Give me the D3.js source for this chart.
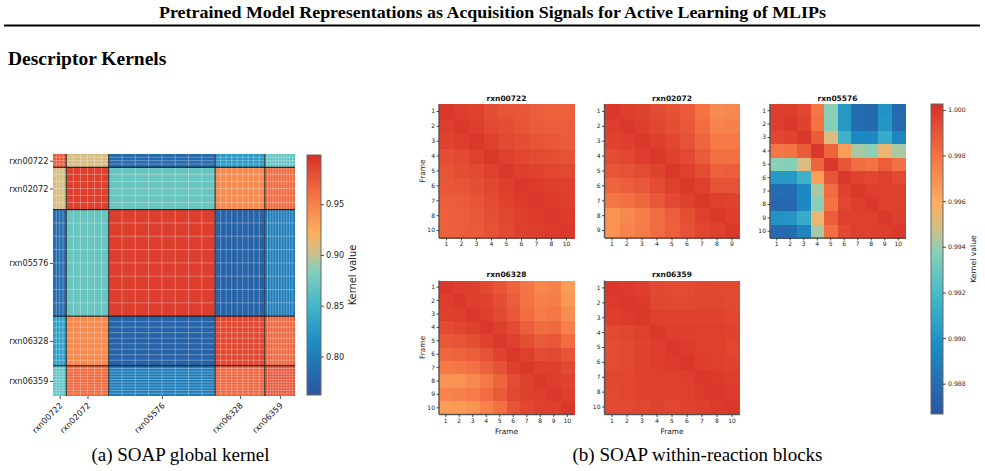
<!DOCTYPE html>
<html>
<head>
<meta charset="utf-8">
<script src="https://cdn.jsdelivr.net/npm/d3@7"></script>
<style>
  body { margin: 0; background: #fff; }
  svg { display: block; }
</style>
</head>
<body>
<svg id="svg" width="985" height="471"></svg>
<script>
// -------------------------------
// DATA
// -------------------------------
const reactions = ["rxn00722", "rxn02072", "rxn05576", "rxn06328", "rxn06359"];

// global kernel: frames per reaction block and the mean kernel value of each block
const globalFrames = [11, 35, 88, 41, 25];
const globalGridDivs = [4, 6, 8, 9, 11];
const globalKernel = [
  [0.975, 0.905, 0.780, 0.825, 0.865],
  [0.905, 0.990, 0.870, 0.945, 0.965],
  [0.785, 0.870, 0.990, 0.775, 0.800],
  [0.830, 0.945, 0.775, 0.985, 0.968],
  [0.865, 0.965, 0.800, 0.968, 0.980]
];
const globalTicks = [0.80, 0.85, 0.90, 0.95];

// within-reaction blocks
const frames00722 = ["1", "2", "3", "4", "5", "6", "7", "8", "10"];
const frames02072 = ["1", "2", "3", "4", "5", "6", "7", "8", "9"];
const frames05576 = ["1", "2", "3", "4", "5", "6", "7", "8", "9", "10"];
const frames06328 = ["1", "2", "3", "4", "5", "6", "7", "8", "9", "10"];
const frames06359 = ["1", "2", "3", "4", "5", "6", "7", "8", "10"];

const kernel00722 = [
  [1.0000, 0.9998, 0.9996, 0.9992, 0.9990, 0.9989, 0.9987, 0.9986, 0.9986],
  [0.9998, 1.0000, 0.9998, 0.9994, 0.9992, 0.9990, 0.9988, 0.9987, 0.9987],
  [0.9996, 0.9998, 1.0000, 0.9997, 0.9994, 0.9992, 0.9990, 0.9989, 0.9988],
  [0.9992, 0.9994, 0.9997, 1.0000, 0.9997, 0.9995, 0.9993, 0.9992, 0.9991],
  [0.9990, 0.9992, 0.9994, 0.9997, 1.0000, 0.9998, 0.9996, 0.9995, 0.9994],
  [0.9989, 0.9990, 0.9992, 0.9995, 0.9998, 1.0000, 0.9999, 0.9998, 0.9997],
  [0.9987, 0.9988, 0.9990, 0.9993, 0.9996, 0.9999, 1.0000, 0.9999, 0.9998],
  [0.9986, 0.9987, 0.9989, 0.9992, 0.9995, 0.9998, 0.9999, 1.0000, 0.9999],
  [0.9986, 0.9987, 0.9988, 0.9991, 0.9994, 0.9997, 0.9998, 0.9999, 1.0000]
];
const kernel02072 = [
  [1.0000, 0.9998, 0.9996, 0.9993, 0.9991, 0.9988, 0.9980, 0.9971, 0.9972],
  [0.9998, 1.0000, 0.9998, 0.9995, 0.9992, 0.9989, 0.9982, 0.9974, 0.9975],
  [0.9996, 0.9998, 1.0000, 0.9998, 0.9995, 0.9991, 0.9985, 0.9978, 0.9978],
  [0.9993, 0.9995, 0.9998, 1.0000, 0.9997, 0.9994, 0.9988, 0.9981, 0.9981],
  [0.9990, 0.9991, 0.9993, 0.9996, 1.0000, 0.9997, 0.9993, 0.9986, 0.9987],
  [0.9985, 0.9987, 0.9989, 0.9993, 0.9997, 1.0000, 0.9997, 0.9991, 0.9991],
  [0.9979, 0.9981, 0.9984, 0.9989, 0.9994, 0.9997, 1.0000, 0.9997, 0.9996],
  [0.9969, 0.9972, 0.9976, 0.9982, 0.9987, 0.9992, 0.9997, 1.0000, 0.9998],
  [0.9969, 0.9974, 0.9977, 0.9982, 0.9986, 0.9991, 0.9995, 0.9997, 1.0000]
];
const kernel05576 = [
  [0.9998, 0.9998, 0.9995, 0.9979, 0.9938, 0.9903, 0.9880, 0.9877, 0.9900, 0.9878],
  [0.9998, 1.0000, 0.9996, 0.9980, 0.9937, 0.9903, 0.9880, 0.9878, 0.9901, 0.9879],
  [0.9995, 0.9996, 1.0000, 0.9988, 0.9950, 0.9915, 0.9895, 0.9895, 0.9912, 0.9893],
  [0.9979, 0.9980, 0.9988, 1.0000, 0.9985, 0.9965, 0.9942, 0.9938, 0.9954, 0.9942],
  [0.9938, 0.9937, 0.9950, 0.9985, 1.0000, 0.9990, 0.9982, 0.9980, 0.9987, 0.9981],
  [0.9903, 0.9903, 0.9915, 0.9965, 0.9990, 1.0000, 0.9996, 0.9995, 0.9997, 0.9994],
  [0.9880, 0.9880, 0.9895, 0.9942, 0.9982, 0.9996, 1.0000, 0.9998, 0.9997, 0.9997],
  [0.9877, 0.9878, 0.9895, 0.9938, 0.9980, 0.9995, 0.9998, 1.0000, 0.9997, 0.9997],
  [0.9900, 0.9901, 0.9912, 0.9954, 0.9987, 0.9997, 0.9997, 0.9997, 1.0000, 0.9998],
  [0.9878, 0.9879, 0.9893, 0.9942, 0.9981, 0.9994, 0.9997, 0.9997, 0.9998, 1.0000]
];
const kernel06328 = [
  [1.0000, 0.9998, 0.9997, 0.9994, 0.9990, 0.9985, 0.9979, 0.9973, 0.9975, 0.9965],
  [0.9998, 1.0000, 0.9998, 0.9996, 0.9992, 0.9987, 0.9980, 0.9975, 0.9976, 0.9967],
  [0.9997, 0.9998, 1.0000, 0.9998, 0.9994, 0.9989, 0.9982, 0.9977, 0.9979, 0.9970],
  [0.9993, 0.9995, 0.9997, 1.0000, 0.9997, 0.9993, 0.9987, 0.9982, 0.9983, 0.9975],
  [0.9989, 0.9990, 0.9992, 0.9996, 1.0000, 0.9997, 0.9992, 0.9988, 0.9989, 0.9982],
  [0.9984, 0.9985, 0.9987, 0.9991, 0.9996, 1.0000, 0.9997, 0.9993, 0.9994, 0.9990],
  [0.9978, 0.9979, 0.9981, 0.9986, 0.9991, 0.9997, 1.0000, 0.9997, 0.9997, 0.9994],
  [0.9968, 0.9969, 0.9972, 0.9978, 0.9985, 0.9993, 0.9997, 1.0000, 0.9998, 0.9996],
  [0.9974, 0.9975, 0.9977, 0.9982, 0.9988, 0.9994, 0.9997, 0.9998, 1.0000, 0.9997],
  [0.9965, 0.9966, 0.9968, 0.9975, 0.9981, 0.9990, 0.9995, 0.9997, 0.9997, 1.0000]
];
const kernel06359 = [
  [1.0000, 0.9999, 0.9998, 0.9994, 0.9993, 0.9993, 0.9995, 0.9994, 0.9994],
  [0.9999, 1.0000, 0.9999, 0.9995, 0.9994, 0.9994, 0.9995, 0.9995, 0.9994],
  [0.9998, 0.9999, 1.0000, 0.9997, 0.9996, 0.9996, 0.9996, 0.9996, 0.9995],
  [0.9994, 0.9995, 0.9997, 1.0000, 0.9998, 0.9998, 0.9997, 0.9997, 0.9996],
  [0.9993, 0.9994, 0.9996, 0.9998, 1.0000, 0.9999, 0.9997, 0.9997, 0.9995],
  [0.9993, 0.9994, 0.9996, 0.9998, 0.9999, 1.0000, 0.9998, 0.9997, 0.9996],
  [0.9995, 0.9995, 0.9996, 0.9997, 0.9997, 0.9998, 1.0000, 0.9999, 0.9998],
  [0.9994, 0.9995, 0.9996, 0.9997, 0.9997, 0.9997, 0.9999, 1.0000, 0.9999],
  [0.9994, 0.9994, 0.9995, 0.9996, 0.9995, 0.9996, 0.9998, 0.9999, 1.0000]
];
const blockTicks = [0.988, 0.990, 0.992, 0.994, 0.996, 0.998, 1.000];

// colormap (blue -> teal -> tan -> orange -> red)
const cmapStops = [0, 0.22, 0.38, 0.52, 0.60, 0.68, 0.83, 1];
const cmapColors = ["#2b55a0", "#1c8cc4", "#45b8c9", "#86d0b9", "#d4bf86", "#fdae61", "#f47444", "#d73027"];

// -------------------------------
// HELPERS
// -------------------------------
const svg = d3.select("#svg");
const SANS = "'DejaVu Sans', sans-serif";
const SERIF = "'Liberation Serif', 'Times New Roman', serif";

const makeCmap = (vmin, vmax) => d3.scaleLinear()
  .domain(cmapStops.map(f => vmin + f * (vmax - vmin)))
  .range(cmapColors)
  .interpolate(d3.interpolateRgb)
  .clamp(true);

const styleAxis = (g, size) => {
  g.select(".domain").remove();
  g.selectAll(".tick line").attr("stroke", "#222").attr("stroke-width", 0.8);
  g.selectAll(".tick text").attr("fill", "#222")
    .style("font-family", SANS).style("font-size", size + "px");
};

// vertical colorbar with right-side ticks
const colorbar = (x, y, w, h, vmin, vmax, ticks, fmt, fontSize, label, labelSize, labelDx, id) => {
  const cmap = makeCmap(vmin, vmax);
  const grad = svg.append("defs").append("linearGradient")
    .attr("id", id).attr("x1", 0).attr("x2", 0).attr("y1", 1).attr("y2", 0);
  cmapStops.forEach((s, i) => grad.append("stop").attr("offset", s).attr("stop-color", cmapColors[i]));

  svg.append("rect").attr("x", x).attr("y", y).attr("width", w).attr("height", h)
    .attr("fill", `url(#${id})`).attr("stroke", "#666").attr("stroke-width", 1);

  const scale = d3.scaleLinear().domain([vmin, vmax]).range([y + h, y]);
  const g = svg.append("g").attr("transform", `translate(${x + w},0)`)
    .call(d3.axisRight(scale).tickValues(ticks).tickFormat(d3.format(fmt)).tickSize(3).tickPadding(2));
  styleAxis(g, fontSize);

  svg.append("text")
    .attr("transform", `translate(${x + w + labelDx},${y + h / 2}) rotate(-90)`)
    .attr("text-anchor", "middle").attr("dy", "0.35em")
    .style("font-family", SANS).style("font-size", labelSize + "px").attr("fill", "#222")
    .text(label);
  return cmap;
};

// -------------------------------
// PAGE HEADER
// -------------------------------
svg.append("text").attr("x", 492.5).attr("y", 18).attr("text-anchor", "middle")
  .attr("textLength", 667).attr("lengthAdjust", "spacingAndGlyphs")
  .style("font-family", SERIF).style("font-weight", "bold").style("font-size", "17px")
  .text("Pretrained Model Representations as Acquisition Signals for Active Learning of MLIPs");
svg.append("line").attr("x1", 4).attr("x2", 980).attr("y1", 25.5).attr("y2", 25.5)
  .attr("stroke", "#000").attr("stroke-width", 2);
svg.append("text").attr("x", 8).attr("y", 65)
  .style("font-family", SERIF).style("font-weight", "bold").style("font-size", "19.5px")
  .text("Descriptor Kernels");

// -------------------------------
// (a) GLOBAL KERNEL
// -------------------------------
const gLeft = 53, gTop = 154, gSize = 242;
const starts = d3.cumsum([0, ...globalFrames]);
const total = d3.sum(globalFrames);
const gx = d3.scaleLinear().domain([0, total]).range([gLeft, gLeft + gSize]);
const gy = d3.scaleLinear().domain([0, total]).range([gTop, gTop + gSize]);
const gCmap = colorbar(307, 155, 14, 240, 0.762, 0.9985, globalTicks, ".2f", 8.2, "Kernel value", 9.8, 32, "gradA");

const blocks = [];
globalKernel.forEach((row, i) => row.forEach((v, j) => blocks.push({ i, j, v })));
const ga = svg.append("g");
ga.selectAll("rect.block").data(blocks).enter().append("rect")
  .attr("class", "block")
  .attr("x", d => gx(starts[d.j]))
  .attr("y", d => gy(starts[d.i]))
  .attr("width", d => gx(starts[d.j + 1]) - gx(starts[d.j]))
  .attr("height", d => gy(starts[d.i + 1]) - gy(starts[d.i]))
  .attr("shape-rendering", "crispEdges")
  .attr("fill", d => gCmap(d.v));

// light frame grid inside every block
const gridPos = [];
globalFrames.forEach((n, b) => {
  const divs = globalGridDivs[b];
  for (let k = 1; k < divs; k++) gridPos.push(starts[b] + k * n / divs);
});
ga.selectAll("line.gv").data(gridPos).enter().append("line")
  .attr("x1", d => gx(d)).attr("x2", d => gx(d)).attr("y1", gTop).attr("y2", gTop + gSize)
  .attr("stroke", "#fff").attr("stroke-opacity", 0.38).attr("stroke-width", 0.8);
ga.selectAll("line.gh").data(gridPos).enter().append("line")
  .attr("y1", d => gy(d)).attr("y2", d => gy(d)).attr("x1", gLeft).attr("x2", gLeft + gSize)
  .attr("stroke", "#fff").attr("stroke-opacity", 0.38).attr("stroke-width", 0.8);

// block separators
const inner = starts.slice(1, -1);
ga.selectAll("line.sv").data(inner).enter().append("line")
  .attr("x1", d => gx(d)).attr("x2", d => gx(d)).attr("y1", gTop).attr("y2", gTop + gSize)
  .attr("stroke", "#444").attr("stroke-width", 1.3);
ga.selectAll("line.sh").data(inner).enter().append("line")
  .attr("y1", d => gy(d)).attr("y2", d => gy(d)).attr("x1", gLeft).attr("x2", gLeft + gSize)
  .attr("stroke", "#111").attr("stroke-width", 1);

// axes at block centres
const centres = reactions.map((r, i) => (starts[i] + starts[i + 1]) / 2);
const yLab = d3.scaleOrdinal().domain(reactions).range(centres.map(c => gy(c)));
const xLab = d3.scaleOrdinal().domain(reactions).range(centres.map(c => gx(c)));
const yAx = svg.append("g").attr("transform", `translate(${gLeft},0)`)
  .call(d3.axisLeft(yLab).tickSize(3).tickPadding(1.5));
styleAxis(yAx, 8.2);
const xAx = svg.append("g").attr("transform", `translate(0,${gTop + gSize})`)
  .call(d3.axisBottom(xLab).tickSize(3));
styleAxis(xAx, 8.2);
xAx.selectAll(".tick text")
  .attr("x", 0).attr("y", 0).attr("dy", "0.35em")
  .attr("transform", "translate(1,8) rotate(-45)")
  .style("text-anchor", "end");

svg.append("text").attr("x", 180.5).attr("y", 461).attr("text-anchor", "middle")
  .style("font-family", SERIF).style("font-size", "19px")
  .text("(a) SOAP global kernel");

// -------------------------------
// (b) WITHIN-REACTION BLOCKS
// -------------------------------
const bCmap = colorbar(931, 104, 12, 310, 0.98667, 1.00026, blockTicks, ".3f", 6.2, "Kernel value", 7.7, 30, "gradB");

const panels = [
  { name: reactions[0], frames: frames00722, K: kernel00722, x: 439, y: 104, ylab: true, xlab: false },
  { name: reactions[1], frames: frames02072, K: kernel02072, x: 604.5, y: 104, ylab: false, xlab: false },
  { name: reactions[2], frames: frames05576, K: kernel05576, x: 770, y: 104, ylab: false, xlab: false },
  { name: reactions[3], frames: frames06328, K: kernel06328, x: 439, y: 280.5, ylab: true, xlab: true },
  { name: reactions[4], frames: frames06359, K: kernel06359, x: 604.5, y: 280.5, ylab: false, xlab: true }
];
const pw = 135, ph = 134;

panels.forEach(p => {
  const x = d3.scaleBand().domain(p.frames).range([p.x, p.x + pw]);
  const y = d3.scaleBand().domain(p.frames).range([p.y, p.y + ph]);
  const cells = [];
  p.K.forEach((row, i) => row.forEach((v, j) => cells.push({ r: p.frames[i], c: p.frames[j], v })));

  const g = svg.append("g");
  g.selectAll("rect").data(cells).enter().append("rect")
    .attr("x", d => x(d.c)).attr("y", d => y(d.r))
    .attr("width", x.bandwidth() + 0.6).attr("height", y.bandwidth() + 0.6)
    .attr("shape-rendering", "crispEdges")
    .attr("fill", d => bCmap(d.v));

  // left / bottom spines
  g.append("line").attr("x1", p.x).attr("x2", p.x).attr("y1", p.y).attr("y2", p.y + ph)
    .attr("stroke", "#555").attr("stroke-width", 1.4);
  g.append("line").attr("x1", p.x).attr("x2", p.x + pw).attr("y1", p.y + ph).attr("y2", p.y + ph)
    .attr("stroke", "#555").attr("stroke-width", 1.4);

  const ya = svg.append("g").attr("transform", `translate(${p.x},0)`)
    .call(d3.axisLeft(y).tickSize(2.5).tickPadding(1.5));
  styleAxis(ya, 6);
  const xa = svg.append("g").attr("transform", `translate(0,${p.y + ph})`)
    .call(d3.axisBottom(x).tickSize(2.5).tickPadding(1.5));
  styleAxis(xa, 6);

  svg.append("text").attr("x", p.x + pw / 2).attr("y", p.y - 3.5).attr("text-anchor", "middle")
    .style("font-family", SANS).style("font-weight", "bold").style("font-size", "7.5px").attr("fill", "#111")
    .text(p.name);

  if (p.ylab) {
    svg.append("text")
      .attr("transform", `translate(${p.x - 17},${p.y + ph / 2}) rotate(-90)`)
      .attr("text-anchor", "middle").attr("dy", "0.35em")
      .style("font-family", SANS).style("font-size", "7.4px").attr("fill", "#222")
      .text("Frame");
  }
  if (p.xlab) {
    svg.append("text").attr("x", p.x + pw / 2).attr("y", p.y + ph + 19)
      .attr("text-anchor", "middle")
      .style("font-family", SANS).style("font-size", "7.4px").attr("fill", "#222")
      .text("Frame");
  }
});

svg.append("text").attr("x", 697.5).attr("y", 461).attr("text-anchor", "middle")
  .style("font-family", SERIF).style("font-size", "19px")
  .text("(b) SOAP within-reaction blocks");
</script>
</body>
</html>
